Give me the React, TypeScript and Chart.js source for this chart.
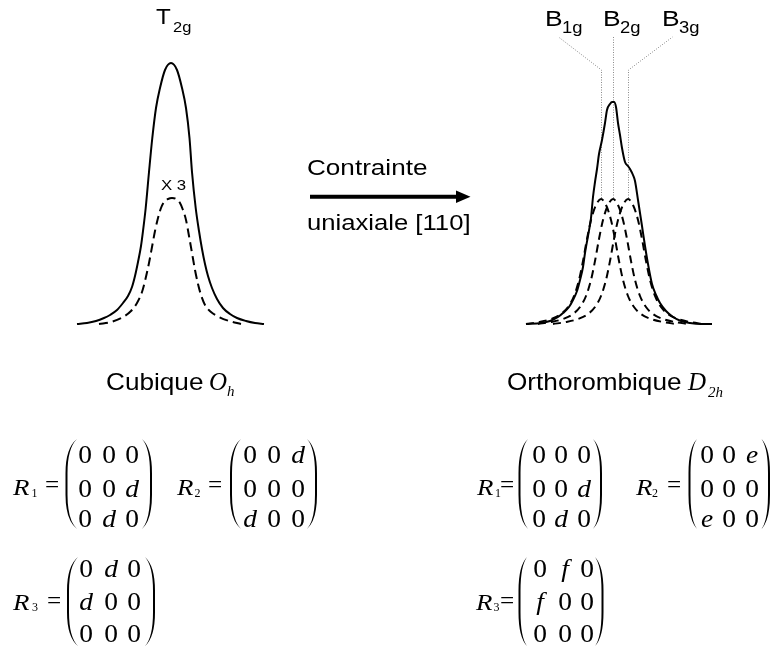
import React, { useEffect, useRef } from "react";
import { Chart, registerables } from "chart.js";

Chart.register(...registerables);

// ---------------- DATA ----------------
// Left panel (cubic O_h): T2g band. x = shift from the band centre (arb. units), y = intensity (arb. units)
const cubicShift = [-94, -84, -75, -67, -61, -54, -48, -43, -39, -36, -33, -30, -28, -25.3, -22, -18.7, -15, -11, -6, 0, 6, 11, 15, 18.5, 21, 24.7, 28, 31, 34, 37, 41, 46, 52, 59, 66, 75, 84, 93];
const cubicT2g = [0, 1, 3, 6, 9, 14, 21, 28, 37, 48, 62, 78, 93, 116, 152, 186, 216, 236, 254, 261, 254, 236, 216, 186, 152, 116, 93, 75, 60, 48, 36, 25, 16, 10, 6, 3, 1, 0];
// single component (dashed, "X 3")
const cubicCompShift = [-72, -60, -48, -40, -34, -29, -26, -22, -19, -16, -13, -10, -7, -3, 1, 5, 9, 12, 15, 18, 21, 24, 27, 30, 34, 40, 48, 58, 70];
const cubicComp = [0, 2, 7, 13, 21, 32, 43, 61, 77, 93, 106, 116, 122, 125, 126, 125, 121, 114, 104, 88, 71, 54, 40, 29, 19, 12, 7, 3, 0];

// Right panel (orthorhombic D_2h): total band + B1g, B2g, B3g components. x = shift from B2g centre
const orthoShift = [-87, -72, -63, -55, -50, -44, -40, -36, -33, -30, -28, -25, -22, -20, -18, -16, -14, -11, -8, -6, -3, -1, 1, 3, 5, 7, 9, 12, 15, 17, 20, 22, 25, 29, 32, 35, 39, 43, 47, 53, 60, 68, 77, 88, 99];
const orthoTotal = [0, 1, 3, 7, 11, 17, 24, 33, 44, 57, 71, 88, 106, 127, 142, 155, 170, 184, 201, 214, 220, 222, 222, 217, 201, 189, 176, 162, 158, 155, 149, 143, 124, 98, 78, 60, 40, 29, 21, 13, 7, 3, 1, 0, 0];
const b1gShift = [-87, -74, -62, -52, -45, -39, -34, -30, -26, -22, -17, -12, -7, -2, 2, 6, 10, 15, 21, 28, 38, 50, 63];
const b1g = [0, 2, 5, 10, 17, 28, 44, 63, 85, 104, 119, 125, 119, 104, 85, 63, 44, 28, 17, 10, 5, 2, 0];
const b2gShift = [-75, -62, -50, -40, -33, -27, -22, -18, -14, -10, -5, 0, 5, 10, 14, 18, 22, 27, 33, 40, 50, 62, 75];
const b2g = [0, 2, 5, 10, 17, 28, 44, 63, 85, 104, 119, 125, 119, 104, 85, 63, 44, 28, 17, 10, 5, 2, 0];
const b3gShift = [-60, -47, -35, -25, -18, -12, -7, -3, 1, 5, 10, 15, 20, 25, 29, 33, 37, 42, 48, 55, 65, 77, 90];
const b3g = [0, 2, 5, 10, 17, 28, 44, 63, 85, 104, 119, 125, 119, 104, 85, 63, 44, 28, 17, 10, 5, 2, 0];

const componentNames = ["1g", "2g", "3g"];
const leaderAnchorShift = [-55, 0, 59];

// Raman tensors
const cubicR1 = [["0", "0", "0"], ["0", "0", "d"], ["0", "d", "0"]];
const cubicR2 = [["0", "0", "d"], ["0", "0", "0"], ["d", "0", "0"]];
const cubicR3 = [["0", "d", "0"], ["d", "0", "0"], ["0", "0", "0"]];
const orthoR1 = [["0", "0", "0"], ["0", "0", "d"], ["0", "d", "0"]];
const orthoR2 = [["0", "0", "e"], ["0", "0", "0"], ["e", "0", "0"]];
const orthoR3 = [["0", "f", "0"], ["f", "0", "0"], ["0", "0", "0"]];

// ---------------- HELPERS ----------------
const SANS = '"Liberation Sans", Arial, sans-serif';
const SERIF = '"Liberation Serif", "Times New Roman", serif';

const pts = (xs: number[], ys: number[]) => xs.map((x, i) => ({ x, y: ys[i] }));
const argmaxX = (xs: number[], ys: number[]) => xs[ys.indexOf(Math.max(...ys))];

type TxtProps = {
  x: number; base: number; size: number; serif?: boolean; italic?: boolean;
  sx?: number; center?: boolean; children: React.ReactNode;
};
function Txt({ x, base, size, serif, italic, sx = 1, center, children }: TxtProps) {
  const asc = serif ? 0.8375 : 0.8465;
  return (
    <div
      style={{
        position: "absolute", left: x, top: base - asc * size, fontSize: size, lineHeight: 1,
        fontFamily: serif ? SERIF : SANS, fontStyle: italic ? "italic" : "normal",
        whiteSpace: "nowrap", color: "#000",
        transform: `${center ? "translateX(-50%) " : ""}scaleX(${sx})`,
        transformOrigin: center ? "50% 50%" : "0 50%",
      }}
    >
      {children}
    </div>
  );
}

function parenPath(tipX: number, bowX: number, top: number, bot: number) {
  const h = bot - top;
  const d = bowX < tipX ? 2 : -2;
  const i = bowX + d;
  return `M${tipX},${top} Q${bowX},${top + 0.1 * h} ${bowX},${top + 0.38 * h} L${bowX},${bot - 0.38 * h} Q${bowX},${bot - 0.1 * h} ${tipX},${bot} Q${i},${bot - 0.1 * h} ${i},${bot - 0.38 * h} L${i},${top + 0.38 * h} Q${i},${top + 0.1 * h} ${tipX},${top} Z`;
}

const matrixBlocks = [
  { entries: cubicR1, idx: "1", rX: 12.5, rBase: 495, subX: 31.5, subBase: 497, eqX: 44.5, eqBase: 492.5, lp: [77, 65.5], rp: [142, 152], top: 439, bot: 529, cols: [85, 108.5, 132], rows: [463, 497, 527] },
  { entries: cubicR2, idx: "2", rX: 177, rBase: 495, subX: 194.5, subBase: 497, eqX: 208, eqBase: 492.5, lp: [241, 230], rp: [307, 317], top: 439, bot: 529, cols: [249.5, 273.5, 297.5], rows: [463, 497, 527] },
  { entries: cubicR3, idx: "3", rX: 12.5, rBase: 610, subX: 32, subBase: 611, eqX: 46.5, eqBase: 608.5, lp: [78, 67], rp: [145, 155], top: 557, bot: 646, cols: [86, 111, 134], rows: [577, 610, 642] },
  { entries: orthoR1, idx: "1", rX: 477, rBase: 495, subX: 495, subBase: 497, eqX: 500, eqBase: 492.5, lp: [528, 518.5], rp: [593, 602], top: 439, bot: 529, cols: [539, 561, 584], rows: [463, 497, 527] },
  { entries: orthoR2, idx: "2", rX: 636, rBase: 495, subX: 652, subBase: 497, eqX: 667, eqBase: 492.5, lp: [697, 688.5], rp: [761.5, 770], top: 439, bot: 529, cols: [707, 729, 752], rows: [463, 497, 527] },
  { entries: orthoR3, idx: "3", rX: 476, rBase: 610, subX: 493.5, subBase: 611, eqX: 500, eqBase: 608.5, lp: [527, 518.5], rp: [595, 603.5], top: 557, bot: 646, cols: [540, 565, 587], rows: [577, 610, 642] },
];

const baseOptions = (xmin: number, xmax: number, ymin: number, ymax: number): any => ({
  animation: false,
  responsive: false,
  devicePixelRatio: 1,
  events: [],
  layout: { padding: 0, autoPadding: false },
  plugins: { legend: { display: false }, tooltip: { enabled: false } },
  scales: {
    x: { type: "linear", display: false, min: xmin, max: xmax },
    y: { type: "linear", display: false, min: ymin, max: ymax },
  },
  elements: { point: { radius: 0, hoverRadius: 0 }, line: { borderJoinStyle: "round" } },
});

const lineDs = (data: any[], dashed: boolean) => ({
  data,
  borderColor: "#000",
  borderWidth: 2,
  borderDash: dashed ? [8, 5] : [],
  pointRadius: 0,
  pointHoverRadius: 0,
  fill: false,
  cubicInterpolationMode: "monotone",
});

// ---------------- COMPONENT ----------------
export default function App() {
  const leftRef = useRef<HTMLCanvasElement>(null);
  const rightRef = useRef<HTMLCanvasElement>(null);

  useEffect(() => {
    const left = new Chart(leftRef.current!, {
      type: "line",
      data: {
        datasets: [
          lineDs(pts(cubicShift, cubicT2g), false),
          { ...lineDs(pts(cubicCompShift, cubicComp), true), borderDash: [9, 5] },
        ],
      },
      options: baseOptions(-100, 100, -10, 270),
    } as any);

    const centres = [argmaxX(b1gShift, b1g), argmaxX(b2gShift, b2g), argmaxX(b3gShift, b3g)];
    const peaks = [Math.max(...b1g), Math.max(...b2g), Math.max(...b3g)];
    const leaders = {
      id: "leaders",
      beforeDatasetsDraw(chart: any) {
        const { ctx, scales } = chart;
        const x = scales.x, y = scales.y;
        ctx.save();
        ctx.strokeStyle = "#8a8a8a";
        ctx.lineWidth = 1;
        ctx.setLineDash([1, 1.5]);
        centres.forEach((c, i) => {
          ctx.beginPath();
          ctx.moveTo(Math.round(x.getPixelForValue(c)) + 0.5, y.getPixelForValue(peaks[i] + 1));
          ctx.lineTo(Math.round(x.getPixelForValue(c)) + 0.5, y.getPixelForValue(254));
          ctx.lineTo(x.getPixelForValue(leaderAnchorShift[i]) + 0.5, y.getPixelForValue(287));
          ctx.stroke();
        });
        ctx.restore();
      },
    };

    const right = new Chart(rightRef.current!, {
      type: "line",
      data: {
        datasets: [
          lineDs(pts(orthoShift, orthoTotal), false),
          lineDs(pts(b1gShift, b1g), true),
          lineDs(pts(b2gShift, b2g), true),
          lineDs(pts(b3gShift, b3g), true),
        ],
      },
      options: baseOptions(-100, 120, -10, 300),
      plugins: [leaders],
    } as any);

    return () => {
      left.destroy();
      right.destroy();
    };
  }, []);

  const bLabelX = [544.5, 602.5, 661.5];

  return (
    <div style={{ position: "absolute", left: 0, top: 0, width: 773, height: 651, background: "#fff", overflow: "hidden" }}>
      <canvas ref={leftRef} width={200} height={280} style={{ position: "absolute", left: 71, top: 54, width: 200, height: 280 }} />
      <canvas ref={rightRef} width={220} height={310} style={{ position: "absolute", left: 513, top: 24, width: 220, height: 310 }} />

      <svg width={773} height={651} style={{ position: "absolute", left: 0, top: 0, pointerEvents: "none" }}>
        <line x1={310} y1={196.7} x2={458} y2={196.7} stroke="#000" strokeWidth={4} />
        <polygon points="456,190.5 470.5,196.7 456,203" fill="#000" />
        {matrixBlocks.map((m, k) => (
          <g key={k} fill="#000">
            <path d={parenPath(m.lp[0], m.lp[1], m.top, m.bot)} />
            <path d={parenPath(m.rp[0], m.rp[1], m.top, m.bot)} />
          </g>
        ))}
      </svg>

      {/* peak labels */}
      <Txt x={156} base={25} size={22} sx={1.1}>T</Txt>
      <Txt x={172.5} base={32} size={15} sx={1.1}>2g</Txt>
      <Txt x={161} base={190} size={14} sx={1.2}>X 3</Txt>
      {componentNames.map((n, i) => (
        <React.Fragment key={n}>
          <Txt x={bLabelX[i]} base={27} size={22} sx={1.2}>B</Txt>
          <Txt x={bLabelX[i] + 17.5} base={33.5} size={16} sx={1.15}>{n}</Txt>
        </React.Fragment>
      ))}

      {/* arrow text */}
      <Txt x={307} base={176} size={22.5} sx={1.16}>Contrainte</Txt>
      <Txt x={307} base={231} size={22.5} sx={1.14}>uniaxiale [110]</Txt>

      {/* symmetry names */}
      <Txt x={106} base={390} size={24} sx={1.09}>Cubique</Txt>
      <Txt x={209} base={390} size={25} serif italic>O</Txt>
      <Txt x={227} base={397} size={15} serif italic>h</Txt>
      <Txt x={507} base={390} size={24} sx={1.09}>Orthorombique</Txt>
      <Txt x={688} base={390} size={25} serif italic>D</Txt>
      <Txt x={708} base={398} size={15} serif italic>2h</Txt>

      {/* tensors */}
      {matrixBlocks.map((m, k) => (
        <React.Fragment key={"m" + k}>
          <Txt x={m.rX} base={m.rBase} size={24} serif italic sx={1.12}>R</Txt>
          <Txt x={m.subX} base={m.subBase} size={12} serif>{m.idx}</Txt>
          <Txt x={m.eqX} base={m.eqBase} size={24} serif sx={1.05}>=</Txt>
          {m.entries.map((row, r) =>
            row.map((v, c) => (
              <Txt key={`${r}-${c}`} x={m.cols[c]} base={m.rows[r]} size={25} serif italic={v !== "0"} sx={1.1} center>
                {v}
              </Txt>
            ))
          )}
        </React.Fragment>
      ))}
    </div>
  );
}
